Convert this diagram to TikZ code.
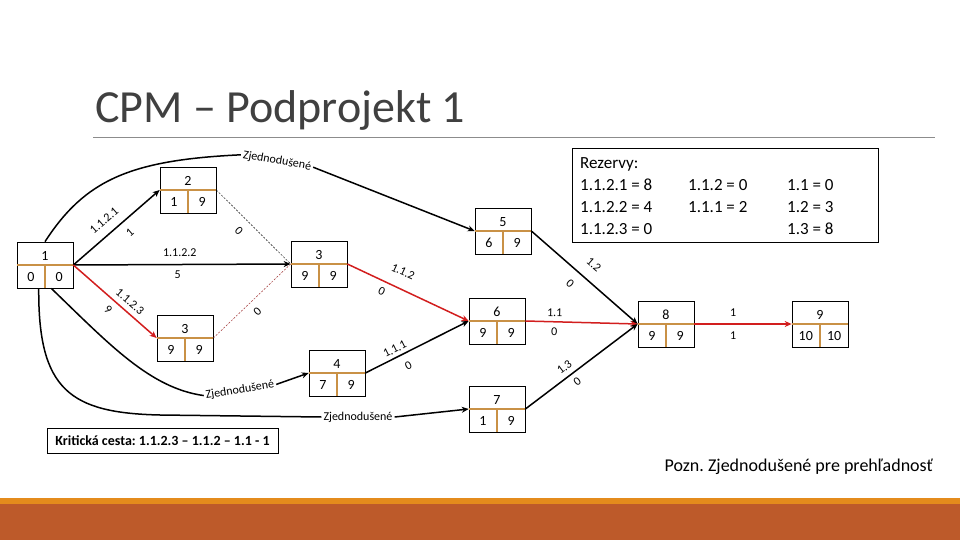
\documentclass[tikz,border=0pt]{standalone}
\usepackage{fontspec}
\setmainfont{Carlito}
\frenchspacing
\usetikzlibrary{arrows.meta,calc}
\definecolor{divc}{RGB}{201,145,70}
\definecolor{redc}{RGB}{210,30,30}
\definecolor{dredc}{RGB}{160,50,50}
\definecolor{titlec}{RGB}{64,64,64}
\definecolor{rulec}{RGB}{140,140,140}
\definecolor{barA}{RGB}{228,139,28}
\definecolor{barB}{RGB}{189,90,42}
\tikzset{
  cpmbox/.style={draw=black, line width=0.7pt, minimum width=56pt, minimum height=46pt, inner sep=0pt},
  divider/.style={draw=divc, line width=1.6pt},
  numtxt/.style={font=\fontsize{14}{16}\selectfont, inner sep=0pt},
  arr/.style={line width=1.5pt, -{Stealth[length=7pt,width=6pt]}},
  redarr/.style={arr, draw=redc, -{Stealth[length=7pt,width=6pt,color=redc]}},
  dotline/.style={line width=0.5pt, dash pattern=on 2pt off 1.5pt},
  lab/.style={font=\fontsize{12}{14}\selectfont, sloped, inner sep=0.5pt},
  zj/.style={font=\fontsize{12}{14}\selectfont, inner sep=1pt},
  rez/.style={font=\fontsize{17}{19}\selectfont, anchor=west, inner sep=0pt},
}
\newcommand\cpmn[6]{%
  \node[cpmbox] (#1) at (#2,#3) {};
  \draw[divider] (#1.west) -- (#1.east);
  \draw[divider] (#1.center) -- (#1.south);
  \node[numtxt] (#1-t) at ($(#1.north)!0.62!(#1.center)$) {#4};
  \node[numtxt] (#1-l) at ($(#1.south west)!0.5!(#1.center)$) {#5};
  \node[numtxt] (#1-r) at ($(#1.south east)!0.5!(#1.center)$) {#6};
}
\begin{document}
\begin{tikzpicture}[x=1pt,y=-1pt]
\useasboundingbox (0,0) rectangle (960,540);
% bottom bars
\fill[barA] (0,498) rectangle (960,504);
\fill[barB] (0,504) rectangle (960,540);
% title
\node[font=\fontsize{46}{52}\selectfont, text=titlec, anchor=base west, inner sep=0pt] (title) at (95,123) {CPM – Podprojekt 1};
\draw[rulec, line width=0.8pt] (93,137) -- (935,137);
% nodes
\cpmn{n1}{45}{265}{1}{0}{0}
\cpmn{n2}{188}{190}{2}{1}{9}
\cpmn{n3}{319}{264}{3}{9}{9}
\cpmn{n3b}{185}{338}{3}{9}{9}
\cpmn{n4}{337}{373}{4}{7}{9}
\cpmn{n5}{503}{231}{5}{6}{9}
\cpmn{n6}{497}{321}{6}{9}{9}
\cpmn{n7}{497}{409}{7}{1}{9}
\cpmn{n8}{666}{324}{8}{9}{9}
\cpmn{n9}{820}{324}{9}{10}{10}
% arrows
\draw[arr] (n1.east) -- node[lab, pos=0.46, above=8.5pt] {1.1.2.1} node[lab, pos=0.56, below=7.5pt] {1} (n2.west);
\draw[arr] (n1.east) -- node[lab, pos=0.49, above=6.5pt] {1.1.2.2} node[lab, pos=0.48, below=5pt] {5} (n3.west);
\draw[redarr] (n1.east) -- node[lab, pos=0.6, above=5pt] {1.1.2.3} node[lab, pos=0.5, below=5pt] {9} (n3b.west);
\draw[dotline] (n2.east) -- node[lab, pos=0.43, below=8.5pt] {0} (n3.west);
\draw[dotline, draw=dredc] (n3b.east) -- node[lab, pos=0.47, below=6.5pt] {0} (n3.west);
\draw[redarr] (n3.east) -- node[lab, pos=0.4, above=11.5pt] {1.1.2} node[lab, pos=0.32, below=5pt] {0} (n6.west);
\draw[arr] (n4.east) -- node[lab, pos=0.32, above=3pt] {1.1.1} node[lab, pos=0.36, below=7.5pt] {0} (n6.west);
\draw[arr] (n5.east) -- node[lab, pos=0.49, above=10.5pt] {1.2} node[lab, pos=0.45, below=8.5pt] {0} (n8.west);
\draw[redarr] (n6.east) -- node[lab, pos=0.26, above=3.5pt] {1.1} node[lab, pos=0.26, below=5pt] {0} (n8.west);
\draw[arr] (n7.east) -- node[lab, pos=0.4, above=4.5pt] {1.3} node[lab, pos=0.41, below=4.5pt] {0} (n8.west);
\draw[redarr] (n8.east) -- node[lab, pos=0.4, above=6pt] {1} node[lab, pos=0.4, below=6.5pt] {1} (n9.west);
% simplified connectors
\node[zj, rotate=-10] (zA) at (277,161) {Zjednodušené};
\node[zj, rotate=9] (zB) at (240,390) {Zjednodušené};
\node[zj] (zC) at (358,417) {Zjednodušené};
\draw[line width=1.5pt] (n1.north) .. controls (85,180) and (130,160) .. ([xshift=-1pt]zA.west);
\draw[arr] ([xshift=1pt]zA.east) -- (n5.west);
\draw[line width=1.5pt] (n1.-75) .. controls (110,345) and (150,388) .. ([xshift=-1pt]zB.west);
\draw[arr] ([xshift=1pt]zB.east) -- (n4.west);
\draw[line width=1.5pt] (n1.-105) .. controls (38,390) and (70,413) .. (160,415) -- ([xshift=-1pt]zC.west);
\draw[arr] ([xshift=1pt]zC.east) -- (n7.west);
% reserves box
\draw[line width=0.7pt] (572,148) rectangle (878,242);
\node[rez] (r0) at (580,164) {Rezervy:};
\node[rez] (r1) at (580,185) {1.1.2.1 = 8};
\node[rez] (r2) at (580,207) {1.1.2.2 = 4};
\node[rez] (r3) at (580,229) {1.1.2.3 = 0};
\node[rez] (r4) at (688,185) {1.1.2 = 0};
\node[rez] (r5) at (688,207) {1.1.1 = 2};
\node[rez] (r6) at (787,185) {1.1 = 0};
\node[rez] (r7) at (787,207) {1.2 = 3};
\node[rez] (r8) at (787,229) {1.3 = 8};
% critical path
\node[draw=black, line width=0.7pt, minimum width=231pt, minimum height=25pt, font=\bfseries\fontsize{14}{16}\selectfont, inner sep=0pt] (crit) at (162.5,440.5) {Kritická cesta: 1.1.2.3 – 1.1.2 – 1.1 - 1};
\node[font=\fontsize{18}{20}\selectfont, anchor=east, inner sep=0pt] (pozn) at (933,467) {Pozn. Zjednodušené pre prehľadnosť};
\end{tikzpicture}
\end{document}
